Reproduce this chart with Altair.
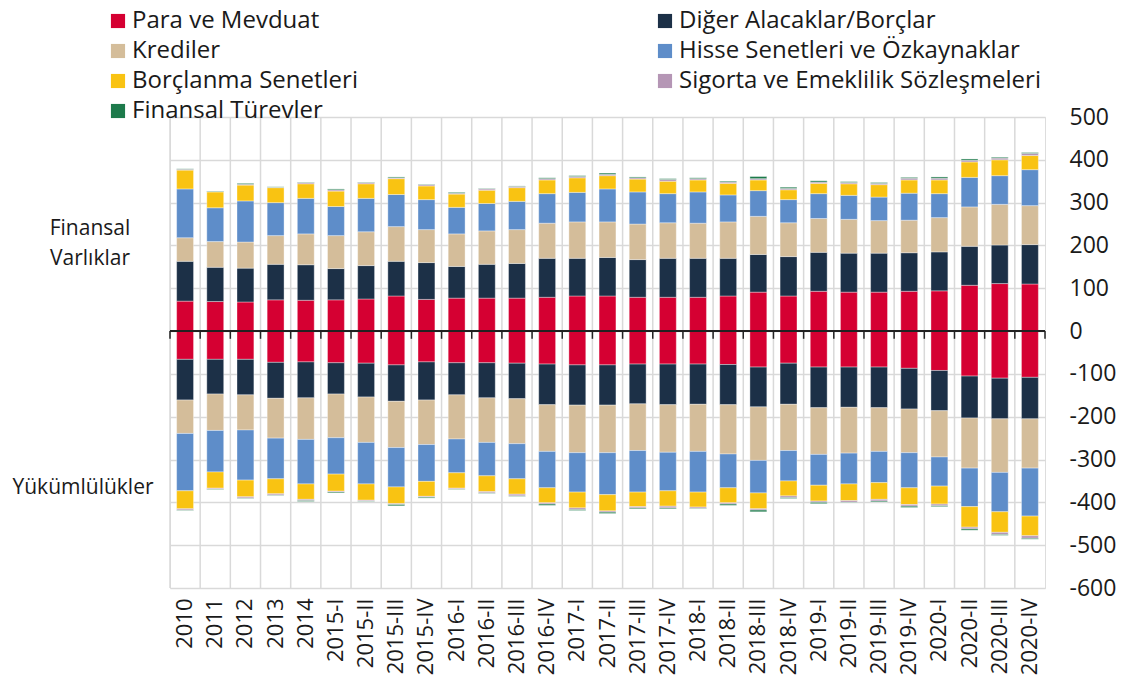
import altair as alt
import pandas as pd

categories = ["2010", "2011", "2012", "2013", "2014",
              "2015-I", "2015-II", "2015-III", "2015-IV",
              "2016-I", "2016-II", "2016-III", "2016-IV",
              "2017-I", "2017-II", "2017-III", "2017-IV",
              "2018-I", "2018-II", "2018-III", "2018-IV",
              "2019-I", "2019-II", "2019-III", "2019-IV",
              "2020-I", "2020-II", "2020-III", "2020-IV"]

series = ["Para ve Mevduat", "Diğer Alacaklar/Borçlar", "Krediler",
          "Hisse Senetleri ve Özkaynaklar", "Borçlanma Senetleri",
          "Sigorta ve Emeklilik Sözleşmeleri", "Finansal Türevler"]
colors = ["#D50032", "#1C3047", "#D4BD9A", "#5E8DC9", "#F9C312", "#B596B5", "#1D7A4B"]
# legend reading order (two columns, filled top to bottom)
legend_order = [0, 2, 4, 6, 1, 3, 5]

# Finansal Varlıklar (assets)
a_para = [70, 69, 68, 73, 72, 73, 75, 82, 74, 77, 77, 77, 79, 82, 82, 79, 79, 79, 82, 91, 82, 93, 91, 91, 93, 94, 107, 111, 110]
a_diger = [93, 80, 79, 83, 83, 73, 78, 81, 86, 74, 79, 81, 91, 88, 90, 88, 91, 91, 88, 88, 92, 91, 91, 91, 90, 91, 91, 90, 92]
a_kredi = [55, 60, 61, 67, 72, 77, 79, 81, 77, 76, 78, 79, 82, 85, 83, 83, 83, 82, 85, 89, 79, 79, 79, 76, 76, 80, 92, 95, 91]
a_hisse = [114, 79, 96, 77, 83, 68, 78, 75, 70, 62, 64, 66, 69, 69, 77, 75, 68, 73, 63, 60, 54, 58, 56, 55, 63, 56, 69, 67, 84]
a_borcl = [44, 37, 37, 35, 34, 36, 34, 37, 32, 31, 31, 32, 32, 34, 31, 30, 29, 28, 27, 25, 23, 24, 27, 29, 31, 32, 36, 37, 33]
a_sigorta = [2, 1, 2, 1, 3, 3, 3, 2, 3, 2, 3, 3, 3, 3, 3, 3, 4, 3, 3, 3, 3, 3, 3, 3, 4, 4, 4, 4, 5]
a_turev = [1, 1, 2, 1, 1, 2, 1, 2, 1, 2, 1, 1, 2, 2, 3, 2, 2, 2, 2, 5, 3, 3, 2, 2, 2, 3, 3, 2, 2]

# Yükümlülükler (liabilities, magnitudes)
l_para = [66, 66, 66, 73, 72, 74, 75, 79, 72, 74, 74, 75, 77, 79, 79, 77, 77, 77, 78, 84, 75, 84, 84, 84, 87, 92, 105, 110, 108]
l_diger = [95, 81, 83, 84, 84, 73, 79, 85, 89, 75, 82, 83, 95, 94, 94, 93, 95, 94, 94, 93, 96, 95, 94, 95, 95, 94, 98, 95, 97]
l_kredi = [78, 85, 82, 93, 97, 102, 106, 108, 104, 103, 104, 105, 109, 111, 111, 109, 111, 110, 115, 125, 108, 109, 107, 102, 102, 108, 117, 125, 115]
l_hisse = [134, 97, 117, 95, 104, 85, 97, 92, 86, 79, 78, 82, 85, 92, 98, 97, 90, 95, 79, 76, 71, 72, 72, 73, 82, 68, 90, 92, 112]
l_borcl = [42, 38, 39, 35, 36, 40, 38, 39, 35, 36, 37, 36, 35, 37, 38, 34, 36, 35, 35, 37, 35, 37, 39, 39, 39, 42, 48, 48, 46]
l_sigorta = [3, 2, 3, 3, 3, 2, 2, 2, 2, 2, 3, 4, 3, 4, 3, 3, 4, 3, 3, 3, 4, 3, 4, 4, 4, 4, 4, 5, 6]
l_turev = [1, 1, 1, 1, 2, 2, 1, 3, 2, 1, 1, 1, 3, 2, 3, 2, 2, 1, 3, 4, 2, 3, 1, 2, 3, 2, 3, 2, 2]

assets = [a_para, a_diger, a_kredi, a_hisse, a_borcl, a_sigorta, a_turev]
liabs = [l_para, l_diger, l_kredi, l_hisse, l_borcl, l_sigorta, l_turev]

annotations = ["Finansal\nVarlıklar", "Yükümlülükler"]

rows = []
for i, s in enumerate(series):
    for j, c in enumerate(categories):
        rows.append({"cat": c, "series": s, "ord": i, "value": assets[i][j]})
        rows.append({"cat": c, "series": s, "ord": i, "value": -liabs[i][j]})
df = pd.DataFrame(rows)
cat_df = pd.DataFrame({"cat": categories})

W, H = 875, 471
FONT = "Open Sans"
GRID = "#D9D9D9"
TXT = "#1a1a1a"

xscale = alt.Scale(paddingInner=0, paddingOuter=0)
yscale = alt.Scale(domain=[-600, 500], nice=False, zero=False)
xaxis = alt.Axis(title=None, labelAngle=-90, labelFontSize=22, labelFont=FONT,
                 labelColor=TXT, labelPadding=10, ticks=False, domain=False,
                 grid=False, labelLimit=200)
yaxis = alt.Axis(orient="right", title=None, values=list(range(-600, 501, 100)),
                 labelFontSize=23, labelFont=FONT, labelColor=TXT,
                 domain=False, ticks=False, labelPadding=24,
                 grid=True, gridColor=GRID, gridWidth=1.5,
                 labelExpr="'' + datum.value")

vgrid = alt.Chart(cat_df).mark_rule(color=GRID, strokeWidth=1.5).encode(
    x=alt.X("cat:N", sort=categories, scale=xscale, bandPosition=0, axis=xaxis),
    y=alt.datum(500, scale=yscale, axis=yaxis),
    y2=alt.datum(-600),
)

bars = alt.Chart(df).mark_bar(
    width=alt.RelativeBandSize(0.56), stroke="#ffffff", strokeWidth=0.6, strokeOpacity=0.6
).encode(
    x=alt.X("cat:N", sort=categories, scale=xscale, axis=xaxis),
    y=alt.Y("value:Q", stack="zero", scale=yscale, axis=yaxis),
    color=alt.Color("series:N",
                    scale=alt.Scale(domain=[series[k] for k in legend_order],
                                    range=[colors[k] for k in legend_order]),
                    legend=alt.Legend(title=None, orient="none", legendX=-64, legendY=-108,
                                      columns=2, columnPadding=295, rowPadding=6,
                                      symbolType="square", symbolSize=200, symbolStrokeWidth=0,
                                      labelFontSize=24, labelFont=FONT, labelColor=TXT,
                                      labelLimit=600, labelOffset=2)),
    order=alt.Order("ord:Q", sort="ascending"),
)

zero_line = alt.Chart(cat_df).mark_rule(color="#222222", strokeWidth=1.5).encode(
    x=alt.value(0), x2=alt.value(W), y=alt.datum(0, axis=yaxis)
)

zero_ticks = alt.Chart(cat_df).mark_rule(color="#222222", strokeWidth=1.5).encode(
    x=alt.X("cat:N", sort=categories, scale=xscale, bandPosition=0, axis=xaxis),
    y=alt.datum(0, axis=yaxis), y2=alt.datum(-18)
)
end_tick = alt.Chart(cat_df.head(1)).mark_rule(color="#222222", strokeWidth=1.5).encode(
    x=alt.value(W), y=alt.datum(0, axis=yaxis), y2=alt.datum(-18)
)

ann_df = pd.DataFrame({"text": annotations})
ann1 = alt.Chart(ann_df.iloc[[0]]).mark_text(
    font=FONT, fontSize=21, align="center", baseline="middle", lineBreak="\n",
    lineHeight=30, color=TXT
).encode(text="text:N", x=alt.value(-80), y=alt.value(112))
ann2 = alt.Chart(ann_df.iloc[[1]]).mark_text(
    font=FONT, fontSize=21, align="center", baseline="middle", color=TXT
).encode(text="text:N", x=alt.value(-87), y=alt.value(371))

chart = alt.layer(vgrid, bars, zero_line, zero_ticks, end_tick, ann1, ann2).properties(
    width=W, height=H,
    autosize=alt.AutoSizeParams(type="none"),
    padding={"left": 162, "top": 109, "right": 75, "bottom": 99},
).configure_view(stroke=GRID, strokeWidth=1.5).configure(background="white")

chart.save("out.html", embed_options={"renderer": "svg", "actions": False})
